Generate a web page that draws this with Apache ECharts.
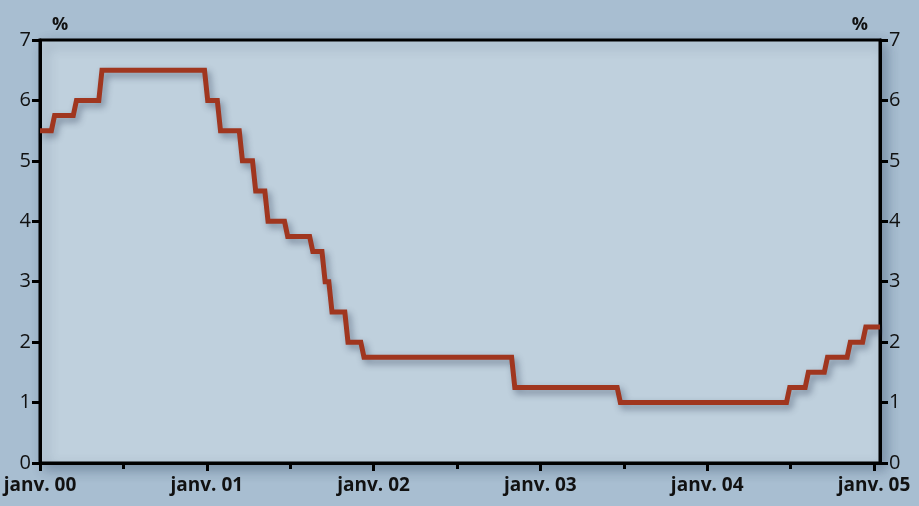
<!DOCTYPE html>
<html>
<head>
<meta charset="utf-8">
<script src="https://cdn.jsdelivr.net/npm/echarts@6/dist/echarts.min.js"></script>
<style>
html,body{margin:0;padding:0;background:#a8bed1;}
#chart{width:919px;height:506px;}
</style>
</head>
<body>
<div id="chart"></div>
<script>
// Rate changes (date of change and the new level)
const startRate = 5.5;
const changeDates = ['2000-02-02','2000-03-21','2000-05-16','2001-01-03','2001-01-31','2001-03-20','2001-04-18','2001-05-15','2001-06-27','2001-08-21','2001-09-17','2001-10-02','2001-11-06','2001-12-11','2002-11-06','2003-06-25','2004-06-30','2004-08-10','2004-09-21','2004-11-10','2004-12-14'];
const newRates = [5.75, 6.0, 6.5, 6.0, 5.5, 5.0, 4.5, 4.0, 3.75, 3.5, 3.0, 2.5, 2.0, 1.75, 1.25, 1.0, 1.25, 1.5, 1.75, 2.0, 2.25];
const yearTicks = [2000, 2001, 2002, 2003, 2004, 2005];
const halfYearTicks = [2000.5, 2001.5, 2002.5, 2003.5, 2004.5];
const xStart = 2000;
const xEnd = 2005.036;

function toYearFrac(s) {
  const d = new Date(s + 'T00:00:00Z');
  const y = d.getUTCFullYear();
  const y0 = Date.UTC(y, 0, 1), y1 = Date.UTC(y + 1, 0, 1);
  return y + (d.getTime() - y0) / (y1 - y0);
}
const weekFrac = 7 / 365;
const lineData = [[xStart, startRate]];
let prev = startRate;
changeDates.forEach((ds, i) => {
  const x = toYearFrac(ds);
  lineData.push([x - weekFrac, prev]);
  lineData.push([x, newRates[i]]);
  prev = newRates[i];
});
lineData.push([xEnd, prev]);

const chart = echarts.init(document.getElementById('chart'));
const black = '#000';
chart.setOption({
  backgroundColor: '#a8bed1',
  animation: false,
  grid: {
    left: 40, right: 39, top: 40, bottom: 43,
    show: true,
    backgroundColor: '#bfd0dd',
    borderColor: black, borderWidth: 3,
    shadowColor: 'rgba(40,60,90,0.35)', shadowBlur: 12, shadowOffsetX: 5, shadowOffsetY: 5
  },
  xAxis: [{
    type: 'value', min: xStart, max: xEnd,
    axisLine: { show: true, lineStyle: { color: black, width: 3 } },
    axisTick: { show: true, inside: false, length: 8, customValues: yearTicks, lineStyle: { color: black, width: 3 } },
    axisLabel: {
      customValues: yearTicks,
      formatter: v => 'janv. ' + String(Math.round(v) % 100).padStart(2, '0'),
      color: '#111', fontFamily: 'Open Sans', fontWeight: 'bold', fontSize: 19, margin: 13
    },
    splitLine: { show: false }
  }, {
    type: 'value', min: xStart, max: xEnd, position: 'bottom',
    axisLine: { show: false },
    axisTick: { show: true, inside: false, length: 6, customValues: halfYearTicks, lineStyle: { color: black, width: 3 } },
    axisLabel: { show: false },
    splitLine: { show: false }
  }],
  yAxis: [{
    type: 'value', min: 0, max: 7, interval: 1, position: 'left',
    name: '%', nameLocation: 'end', nameGap: 15,
    nameTextStyle: { color: '#111', fontFamily: 'Open Sans', fontWeight: 'bold', fontSize: 18, align: 'left', verticalAlign: 'middle', padding: [0, 0, 0, 12] },
    axisLine: { show: true, lineStyle: { color: black, width: 3 } },
    axisTick: { show: true, inside: false, length: 8, lineStyle: { color: black, width: 3 } },
    axisLabel: { color: '#111', fontFamily: 'Open Sans', fontSize: 20, margin: 9 },
    splitLine: { show: false }
  }, {
    type: 'value', min: 0, max: 7, interval: 1, position: 'right',
    name: '%', nameLocation: 'end', nameGap: 15,
    nameTextStyle: { color: '#111', fontFamily: 'Open Sans', fontWeight: 'bold', fontSize: 18, align: 'right', verticalAlign: 'middle', padding: [0, 12, 0, 0] },
    axisLine: { show: true, lineStyle: { color: black, width: 3 } },
    axisTick: { show: true, inside: false, length: 8, lineStyle: { color: black, width: 3 } },
    axisLabel: { color: '#111', fontFamily: 'Open Sans', fontSize: 20, margin: 9 },
    splitLine: { show: false }
  }],
  series: [{
    type: 'line',
    xAxisIndex: 0, yAxisIndex: 0,
    data: lineData,
    showSymbol: false,
    symbol: 'none',
    clip: true,
    lineStyle: {
      color: '#a0361f', width: 5, join: 'miter',
      shadowColor: 'rgba(30,45,70,0.45)', shadowBlur: 7, shadowOffsetX: 3, shadowOffsetY: 4
    }
  }]
});
</script>
</body>
</html>
